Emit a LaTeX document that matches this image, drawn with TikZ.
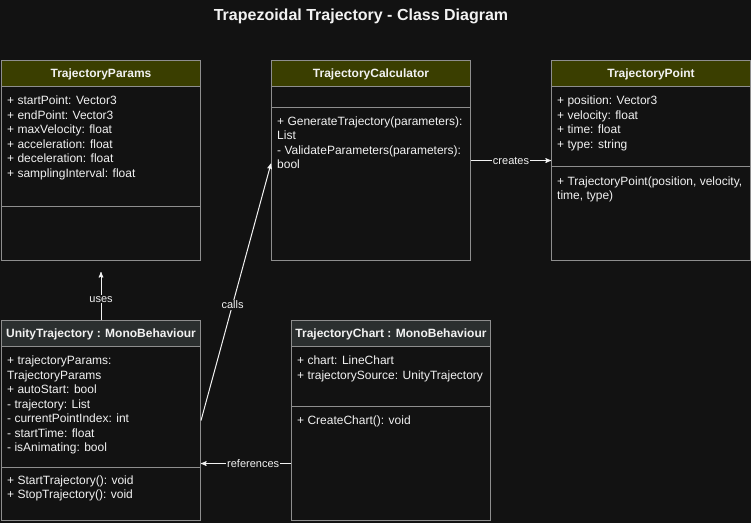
\documentclass[tikz,border=0pt]{standalone}
\usepackage{fontspec}
\setmainfont{Liberation Sans}
\usetikzlibrary{calc,positioning,arrows}
\definecolor{canvas}{HTML}{121212}
\definecolor{frame}{HTML}{8E8E8E}
\definecolor{olivehead}{HTML}{3A3E00}
\definecolor{greyhead}{HTML}{2B2F2F}
\definecolor{ink}{HTML}{F2F2F2}

\begin{document}
\begin{tikzpicture}[>=stealth', x=1pt, y=-1pt,
	classbox/.style={draw=frame, line width=1pt, fill=canvas, anchor=north west,
		minimum width=199pt, inner sep=0pt},
	classhead/.style={draw=frame, line width=1pt, anchor=north, minimum width=199pt,
		minimum height=26pt, inner sep=0pt, text=ink, text height=9pt, text depth=1pt,
		font=\bfseries\fontsize{12}{14}\selectfont},
	member/.style={anchor=west, inner sep=0pt, text=ink, text height=8.5pt, text depth=2.5pt,
		font=\fontsize{12}{14.5}\selectfont},
	sep/.style={draw=frame, line width=1pt},
	link/.style={->, draw=ink, line width=1pt},
	tag/.style={fill=canvas, inner sep=1pt, text=ink, font=\fontsize{11}{13}\selectfont}]
	\useasboundingbox[fill=canvas] (0,0) rectangle (751,523);
	\node[text=ink, font=\bfseries\fontsize{16}{18}\selectfont] (title) at (361,16) {Trapezoidal Trajectory - Class Diagram};

	% TrajectoryParams
	\node[classbox, minimum height=200pt] (params) at (1,60) {};
	\node[classhead, fill=olivehead] (paramsHead) at (params.north) {TrajectoryParams};
	\draw[sep] (params.west |- 0,206) -- (params.east |- 0,206);
	\foreach \t [count=\i from 0] in {{+ startPoint: Vector3},{+ endPoint: Vector3},{+ maxVelocity: float},
		{+ acceleration: float},{+ deceleration: float},{+ samplingInterval: float}}
		\node[member] at (7,101.5+14.5*\i) {\t};

	% TrajectoryCalculator
	\node[classbox, minimum height=200pt] (calc) at (271,60) {};
	\node[classhead, fill=olivehead] (calcHead) at (calc.north) {TrajectoryCalculator};
	\draw[sep] (calc.west |- 0,107) -- (calc.east |- 0,107);
	\foreach \t [count=\i from 0] in {{+ GenerateTrajectory(parameters):},{List},
		{- ValidateParameters(parameters):},{bool}}
		\node[member] at (277,122+14.5*\i) {\t};

	% TrajectoryPoint
	\node[classbox, minimum height=200pt] (point) at (551,60) {};
	\node[classhead, fill=olivehead] (pointHead) at (point.north) {TrajectoryPoint};
	\draw[sep] (point.west |- 0,166) -- (point.east |- 0,166);
	\foreach \t [count=\i from 0] in {{+ position: Vector3},{+ velocity: float},{+ time: float},{+ type: string}}
		\node[member] at (557,101.5+14.5*\i) {\t};
	\foreach \t [count=\i from 0] in {{+ TrajectoryPoint(position, velocity,},{time, type)}}
		\node[member] at (557,182+14.5*\i) {\t};

	% UnityTrajectory
	\node[classbox, minimum height=200pt] (unity) at (1,320) {};
	\node[classhead, fill=greyhead] (unityHead) at (unity.north) {UnityTrajectory : MonoBehaviour};
	\draw[sep] (unity.west |- 0,467) -- (unity.east |- 0,467);
	\foreach \t [count=\i from 0] in {{+ trajectoryParams:},{TrajectoryParams},{+ autoStart: bool},
		{- trajectory: List},{- currentPointIndex: int},{- startTime: float},{- isAnimating: bool}}
		\node[member] at (7,361.5+14.5*\i) {\t};
	\foreach \t [count=\i from 0] in {{+ StartTrajectory(): void},{+ StopTrajectory(): void}}
		\node[member] at (7,481+14.5*\i) {\t};

	% TrajectoryChart
	\node[classbox, minimum height=200pt] (chart) at (291,320) {};
	\node[classhead, fill=greyhead] (chartHead) at (chart.north) {TrajectoryChart : MonoBehaviour};
	\draw[sep] (chart.west |- 0,406) -- (chart.east |- 0,406);
	\foreach \t [count=\i from 0] in {{+ chart: LineChart},{+ trajectorySource: UnityTrajectory}}
		\node[member] at (297,361.5+14.5*\i) {\t};
	\node[member] at (297,421.5) {+ CreateChart(): void};

	% relations
	\draw[link] (unity.north) -- ([yshift=-11pt]params.south) node[tag, pos=0.43] {uses};
	\draw[link] (unity.east) -- ([yshift=-3pt]calc.west) node[tag, pos=0.45] {calls};
	\draw[link] (calc.east) -- (point.west) node[tag, midway] {creates};
	\draw[link] ([yshift=-43pt]chart.west) -- ([yshift=-43pt]unity.east) node[tag, pos=0.42] {references};
\end{tikzpicture}
\end{document}
